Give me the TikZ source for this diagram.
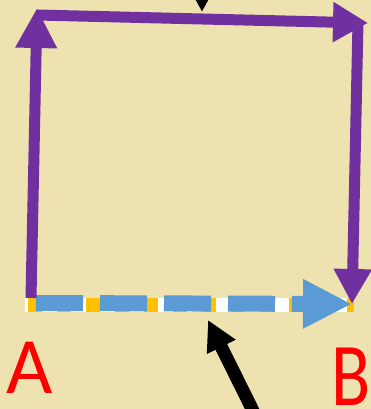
\documentclass[tikz,border=0pt]{standalone}
\usepackage{fontspec}
\setmainfont{Carlito}
\usetikzlibrary{arrows.meta}
\definecolor{bgtan}{RGB}{238,226,176}
\definecolor{pathpurple}{RGB}{112,48,160}
\definecolor{pathblue}{RGB}{91,155,213}
\definecolor{pathgold}{RGB}{255,192,0}
\definecolor{lblred}{RGB}{255,0,0}
\tikzset{
  purplearrow/.style={draw=pathpurple, line width=11pt},
  blackarrow/.style={draw=black, line width=13pt, -{Triangle[length=30pt,width=30pt]}},
  lbl/.style={text=lblred, inner sep=0pt, text depth=0pt, font=\fontsize{80}{80}\selectfont},
}
\begin{document}
\begin{tikzpicture}[x=1pt,y=-1pt]
\fill[bgtan] (0,0) rectangle (371,409);
\useasboundingbox (0,0) rectangle (371,409);
% coordinates
\coordinate (upS) at (31,298);
\coordinate (upE) at (37,8);
\coordinate (topS) at (37,15);
\coordinate (topE) at (368,23);
\coordinate (dnS) at (358,22);
\coordinate (dnE) at (352,304);
\coordinate (baseS) at (25,305);
\coordinate (baseY) at (28,305);
\coordinate (baseE) at (354,305);
\coordinate (blueS) at (36,303);
\coordinate (blueE) at (352,304);
\coordinate (blkTopS) at (202,-60);
\coordinate (blkTopE) at (202,12);
\coordinate (blkBotS) at (263,431);
\coordinate (blkBotE) at (208,320);
% bottom path A -> B
\draw[white, line width=14pt] (baseS) -- (baseE);
\draw[pathgold, line width=14pt, dash pattern=on 14pt off 15pt] (baseY) -- (baseE);
\draw[pathblue, line width=16pt, dash pattern=on 47pt off 17pt,
  -{Triangle[length=49pt,width=46pt]}] (blueS) -- (blueE);
% purple path
\draw[purplearrow, -{Triangle[length=40pt,width=39pt]}] (upS) -- (upE);
\draw[purplearrow, -{Triangle[length=35pt,width=38pt]}] (topS) -- (topE);
\draw[purplearrow, -{Triangle[length=35pt,width=36pt]}] (dnS) -- (dnE);
% black pointers (coming from outside the picture)
\begin{scope}
\clip (0,0) rectangle (371,409);
\draw[blackarrow] (blkTopS) -- (blkTopE);
\draw[blackarrow] (blkBotS) -- (blkBotE);
\end{scope}
% labels
\node[lbl, anchor=base] (labA) at (30,393) {A};
\node[lbl, anchor=base, xscale=0.9, yscale=1.12] (labB) at (351,405) {B};
\end{tikzpicture}
\end{document}
